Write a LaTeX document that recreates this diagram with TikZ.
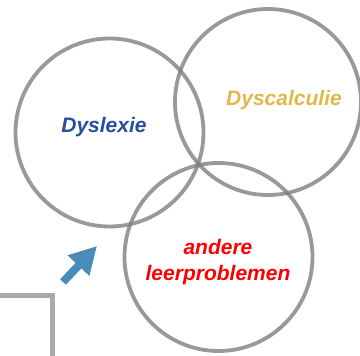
\documentclass[tikz,border=0pt]{standalone}
\usepackage{fontspec}
\setmainfont{Liberation Sans}
\usetikzlibrary{arrows.meta}
\definecolor{ringgray}{RGB}{128,128,128}
\definecolor{boxgray}{RGB}{170,170,170}
\definecolor{pijlblauw}{RGB}{74,140,184}
\definecolor{dysblauw}{RGB}{40,78,160}
\definecolor{dysgoud}{RGB}{224,184,74}
\begin{document}
\begin{tikzpicture}[x=1pt,y=-1pt]
\useasboundingbox (0,0) rectangle (360,356);
\tikzset{ring/.style = {line width = 3.8pt, color = ringgray, opacity = 0.8},
         label/.style = {font = \bfseries\itshape\fontsize{21}{26}\selectfont, align = center}}
\draw[ring] (109.5,132.5) circle (94);
\draw[ring] (268,102) circle (93);
\draw[ring] (218.5,257) circle (94);
\node[label, color = dysblauw] (dyslexie) at (104,127) {Dyslexie};
\node[label, color = dysgoud] (dyscalculie) at (284,100) {Dyscalculie};
\node[label, color = red] (andere) at (218,262) {andere\\leerproblemen};
\draw[line width = 5pt, color = boxgray] (0,296) -- (53,296) -- (53,356);
\coordinate (staart) at (63,282);
\coordinate (punt) at (97,246);
\draw[line width = 8pt, color = pijlblauw, -{Triangle[length = 27pt, width = 28pt]}] (staart) -- (punt);
\end{tikzpicture}
\end{document}
